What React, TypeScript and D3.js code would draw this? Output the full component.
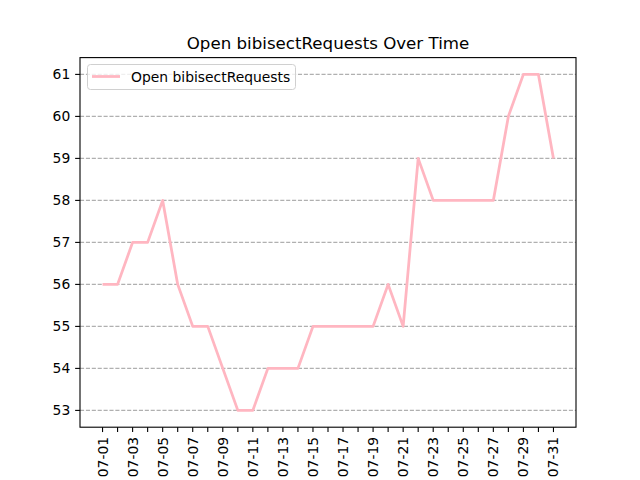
import React from "react";
import * as d3 from "d3";

const days: string[] = [
  "07-01","07-02","07-03","07-04","07-05","07-06","07-07","07-08","07-09","07-10",
  "07-11","07-12","07-13","07-14","07-15","07-16","07-17","07-18","07-19","07-20",
  "07-21","07-22","07-23","07-24","07-25","07-26","07-27","07-28","07-29","07-30","07-31",
];
const openRequests: number[] = [
  56, 56, 57, 57, 58, 56, 55, 55, 54, 53,
  53, 54, 54, 54, 55, 55, 55, 55, 55, 56,
  55, 59, 58, 58, 58, 58, 58, 60, 61, 61, 59,
];
const yTicks: number[] = [53, 54, 55, 56, 57, 58, 59, 60, 61];
const title = "Open bibisectRequests Over Time";
const seriesName = "Open bibisectRequests";

const W = 640, H = 480;
const L = 80, R = 576, T = 57.6, B = 427.2;
const FONT = "DejaVu Sans, sans-serif";
const COLOR = "#FFB6C1";

export default function App() {
  const n = days.length;
  const xPad = (n - 1) * 0.05;
  const x = d3.scaleLinear().domain([0 - xPad, n - 1 + xPad]).range([L, R]);
  const yMin = d3.min(openRequests)!, yMax = d3.max(openRequests)!;
  const yPad = (yMax - yMin) * 0.05;
  const y = d3.scaleLinear().domain([yMin - yPad, yMax + yPad]).range([B, T]);
  const line = d3.line<number>().x((_, i) => x(i)).y((d) => y(d));
  const tl = 4.86;

  return (
    <svg width={W} height={H} style={{ position: "absolute", left: 0, top: 0 }} fontFamily={FONT}>
      <rect x={0} y={0} width={W} height={H} fill="white" />
      {yTicks.map((t) => (
        <line key={"g" + t} x1={L} x2={R} y1={y(t)} y2={y(t)} stroke="#b0b0b0" strokeWidth={1.1} strokeDasharray="4.11,1.78" />
      ))}
      <path d={line(openRequests) || ""} fill="none" stroke={COLOR} strokeWidth={2.78} strokeLinejoin="round" strokeLinecap="butt" />
      <rect x={L} y={T} width={R - L} height={B - T} fill="none" stroke="black" strokeWidth={1.1} />
      {yTicks.map((t) => (
        <g key={"y" + t}>
          <line x1={L - tl} x2={L} y1={y(t)} y2={y(t)} stroke="black" strokeWidth={1.1} />
          <text x={L - tl - 4.86} y={y(t)} dy="0.36em" textAnchor="end" fontSize={13.89}>{t}</text>
        </g>
      ))}
      {days.map((d, i) => (
        <g key={"x" + d}>
          <line x1={x(i)} x2={x(i)} y1={B} y2={B + tl} stroke="black" strokeWidth={1.1} />
          {i % 2 === 0 && (
            <text transform={`translate(${x(i)},${B + tl + 4.86}) rotate(-90)`} dy="0.36em" textAnchor="end" fontSize={13.89}>{d}</text>
          )}
        </g>
      ))}
      <text x={(L + R) / 2} y={49.3} textAnchor="middle" fontSize={16.67}>{title}</text>
      <g>
        <rect x={87.5} y={64.5} width={208} height={25} rx={3} fill="white" fillOpacity={0.8} stroke="#d0d0d0" strokeWidth={1} />
        <line x1={92} x2={120} y1={76.5} y2={76.5} stroke={COLOR} strokeWidth={2.78} />
        <text x={131} y={76.5} dy="0.36em" fontSize={13.89}>{seriesName}</text>
      </g>
    </svg>
  );
}
